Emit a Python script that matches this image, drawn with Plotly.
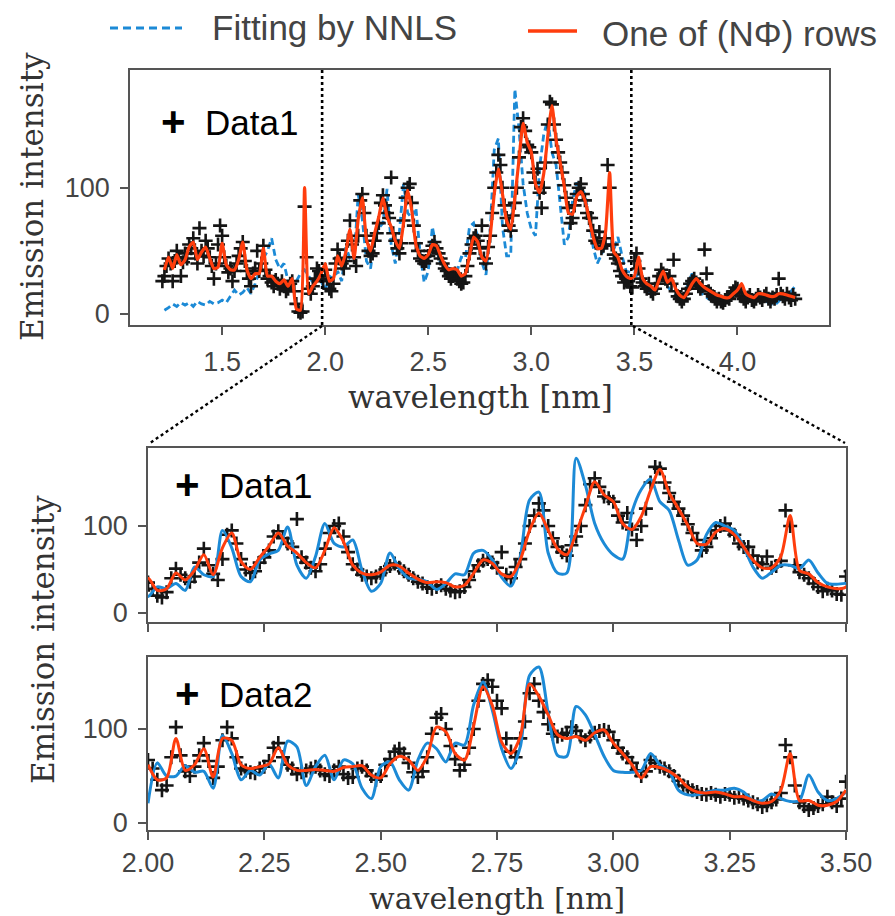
import numpy as np
import plotly.graph_objects as go

# ---------------- data ----------------
STEP_DATA = 0.01
STEP_FIT = 0.02

# Data1: measured emission (black "+"), 1.21 .. 4.28 nm, step 0.01
data1_start = 1.21
data1_values = [
    26, 30, 38, 44, 40, 26, 42, 50, 45, 30,
    41, 48, 44, 55, 52, 60, 48, 40, 68, 50,
    46, 58, 52, 45, 38, 28, 40, 55, 70, 62,
    45, 38, 33, 36, 26, 34, 40, 46, 52, 57,
    42, 34, 28, 22, 32, 36, 50, 34, 40, 54,
    35, 28, 30, 25, 22, 27, 24, 20, 26, 22,
    18, 20, 24, 26, 18, 8, 2, 1, 2, 85,
    45, 20, 16, 22, 28, 36, 34, 30, 26,
    35, 28, 20, 18, 24, 40, 51, 44, 40, 36,
    42, 58, 74, 55, 45, 38, 62, 90, 95, 80,
    62, 50, 46, 48, 58, 64, 72, 88, 94, 86,
    80, 76, 108, 64, 58, 52, 48, 56, 74, 92,
    100, 103, 88, 70, 56, 50, 44, 42, 40, 42,
    46, 50, 54, 57, 52, 48, 44, 40, 36, 34,
    30, 28, 30, 32, 28, 26, 24, 25, 30, 38,
    48, 55, 60, 62, 58, 52, 70, 44, 40, 53,
    62, 80, 100, 112, 126, 118, 100, 86, 76, 70,
    66, 78, 88, 100, 124, 148, 155, 145, 134, 132,
    128, 112, 104, 115, 96, 84, 100, 120, 150, 168,
    166, 150, 138, 128, 120, 112, 102, 92, 84, 72,
    76, 86, 95, 100, 103, 95, 90, 80, 76, 76,
    66, 58, 56, 65, 52, 54, 60, 118, 100, 55,
    47, 44, 40, 34, 30, 25, 28, 26, 22, 21,
    42,
    48, 36, 28, 25, 22, 20, 24, 18, 16, 20,
    24, 30, 35, 32, 28, 26, 30, 24, 43, 18,
    14, 12, 10, 12, 16, 20, 24, 26, 28, 25,
    22, 20, 22, 51, 32, 18, 16, 14, 12, 10,
    12, 10, 9, 11, 13, 12, 15, 18, 21, 20,
    17, 14, 12, 10, 13, 15, 11, 10, 12, 15,
    13, 11, 14, 16, 12, 10, 13, 12, 15, 28,
    16, 14, 12, 16, 13, 11, 15, 12,
]

# Data1 fits, 1.22 .. 4.28 nm, step 0.02
fit1_start = 1.22
data1_row = [  # "One of (N Phi) rows"
    35, 45, 36, 47, 39, 43, 53, 57, 43, 49,
    53, 44, 36, 37, 56, 39, 35, 35, 43, 57,
    35, 28, 32, 32, 52, 30, 30, 26, 24, 27,
    22, 28, 4, 3, 100, 16, 22, 26, 32, 40,
    26, 28, 46, 38, 49, 67, 44, 75, 92, 59,
    50, 64, 77, 92, 77, 69, 58, 52, 72, 98,
    82, 55, 46, 44, 47, 55, 54, 46, 39, 35,
    36, 35, 30, 32, 46, 61, 57,
    45, 42, 61, 95, 115, 95, 74, 67, 92, 122,
    151, 136, 128, 103, 96, 111, 141, 165, 138, 120,
    101, 80, 79, 93, 97, 90, 76, 61, 52, 52,
    65, 112, 49, 45, 35, 30, 28, 30,
    45, 28, 24, 22, 19, 27, 34, 25, 28, 20,
    15, 13, 18, 24, 28, 24, 21, 19, 17, 15,
    14, 13, 13, 16, 19, 24, 16, 14, 13, 16,
    16, 15, 14, 14, 16, 16, 15, 14, 13,
]
data1_nnls = [  # "Fitting by NNLS"
    3, 5, 8, 6, 9, 7, 9, 6, 10, 8,
    7, 10, 8, 9, 11, 9, 14, 19, 15, 17,
    21, 16, 24, 33, 44, 50, 60, 43, 36, 40,
    26, 24, 26, 32, 35, 30, 25, 30, 26, 19,
    30, 28, 34, 26, 53, 44, 42, 95, 75, 42,
    36, 61, 68, 72, 99, 55, 40, 65, 103, 80,
    76, 84, 49, 25, 34, 69, 51, 40, 39, 36,
    27, 34, 45, 44, 69, 72, 61,
    41, 31, 65, 130, 139, 69, 46, 46, 178, 147,
    103, 80, 67, 62, 116, 142, 154, 128, 118, 84,
    55, 61, 90, 104, 100, 95, 76, 53, 40, 47,
    55, 55, 51, 61, 46, 34, 33, 34,
    28, 24, 18, 16, 20, 28, 32, 22, 18, 14,
    11, 14, 24, 32, 26, 18, 14, 12, 10, 8,
    10, 12, 14, 16, 18, 14, 10, 12, 9, 12,
    14, 10, 8, 7, 10, 14, 12, 18, 22,
]

# Data2: measured emission, 2.00 .. 3.50 nm, step 0.01
data2_start = 2.00
data2_values = [
    67, 58, 46, 35, 40, 70, 102, 72, 55, 50,
    60, 72, 85, 66, 48, 60, 88, 102, 90, 70,
    58, 56, 54, 53, 58, 60, 66, 80, 85, 70,
    62, 58, 52, 54, 56, 58, 60, 56, 52, 50,
    56, 60, 52, 48, 49, 58, 60, 56, 50, 46,
    50, 62, 68, 76, 79, 74, 64, 54, 49, 55,
    70, 95, 112, 116, 100, 82, 68, 56, 62, 80,
    100, 130, 148, 152, 145, 130, 122, 90, 76, 70,
    90, 108, 138, 148, 130, 118, 105, 95, 92, 94,
    96, 102, 98, 92, 88, 92, 96, 98, 99, 97,
    88, 80, 74, 70, 64, 56, 50, 55, 67, 64,
    60, 58, 55, 50, 45, 40, 38, 35, 33, 31,
    30, 32, 30, 28, 31, 30, 27, 28, 26, 24,
    22, 20, 17, 19, 22, 25, 32, 83, 70, 40,
    22, 18, 14, 16, 18, 20, 28, 22, 18, 26,
    44,
]
fit2_start = 2.00
data2_row = [
    62, 46, 48, 90, 56, 62, 79, 49, 90, 88,
    62, 58, 60, 63, 80, 62, 56, 56, 57, 56,
    55, 59, 60, 61, 51, 48, 63, 71, 67, 56,
    71, 102, 97, 74, 67, 104, 145, 125, 86, 74,
    92, 148, 135, 115, 94, 90, 92, 88, 96, 99,
    85, 74, 62, 48, 60, 59, 55, 48, 38, 33,
    32, 33, 31, 28, 28, 24, 21, 23, 35, 74,
    24, 24, 19, 19, 23, 35,
]
data2_nnls = [
    21, 64, 50, 50, 61, 54, 55, 37, 93, 74,
    46, 56, 51, 63, 48, 87, 81, 40, 60, 72,
    46, 67, 63, 37, 26, 60, 65, 46, 35, 67,
    85, 79, 65, 85, 83, 126, 150, 120, 79, 58,
    81, 157, 166, 117, 72, 71, 124, 115, 94, 71,
    56, 54, 54, 56, 74, 62, 55, 35, 30, 30,
    33, 35, 35, 37, 33, 24, 24, 31, 26, 23,
    24, 51, 33, 24, 26, 33,
]

top_xticks = [1.5, 2.0, 2.5, 3.0, 3.5, 4.0]
top_xticktext = ["1.5", "2.0", "2.5", "3.0", "3.5", "4.0"]
zoom_xticks = [2.0, 2.25, 2.5, 2.75, 3.0, 3.25, 3.5]
zoom_xticktext = ["2.00", "2.25", "2.50", "2.75", "3.00", "3.25", "3.50"]
y_ticks = [0, 100]
y_ticktext = ["0", "100"]
zoom_lo, zoom_hi = 2.0, 3.5


def grid(start, step, n):
    return np.round(start + step * np.arange(n), 2)


x_d1 = grid(data1_start, STEP_DATA, len(data1_values))
x_f1 = grid(fit1_start, STEP_FIT, len(data1_row))
x_d2 = grid(data2_start, STEP_DATA, len(data2_values))
x_f2 = grid(fit2_start, STEP_FIT, len(data2_row))

# ---------------- styling ----------------
W, H = 895, 916
BLUE = "#1c8ad6"
RED = "#ff3d0d"
BLACK = "#151515"
FRAME = "#555555"
TICKFONT = dict(family="Liberation Sans, Arial, sans-serif", size=27, color="#444444")
SERIF = "DejaVu Serif, serif"
SANS = "Liberation Sans, Arial, sans-serif"


def pxx(x):
    return x / W


def pxy(y):
    return 1 - y / H


marker = dict(symbol="cross-thin", size=10, color=BLACK, line=dict(width=2.6, color=BLACK))

fig = go.Figure()

# top panel
fig.add_trace(go.Scatter(x=x_f1, y=data1_nnls, mode="lines", xaxis="x", yaxis="y",
                         line=dict(color=BLUE, width=2.8, dash="7px,4px"), showlegend=False))
fig.add_trace(go.Scatter(x=x_d1, y=data1_values, mode="markers", xaxis="x", yaxis="y",
                         marker=marker, showlegend=False))
fig.add_trace(go.Scatter(x=x_f1, y=data1_row, mode="lines", xaxis="x", yaxis="y",
                         line=dict(color=RED, width=3.2, shape="spline", smoothing=0.5), showlegend=False))

# middle panel (zoom of Data1)
fig.add_trace(go.Scatter(x=x_d1, y=data1_values, mode="markers", xaxis="x2", yaxis="y2",
                         marker=marker, showlegend=False))
fig.add_trace(go.Scatter(x=x_f1, y=data1_nnls, mode="lines", xaxis="x2", yaxis="y2",
                         line=dict(color=BLUE, width=3, shape="spline", smoothing=0.8), showlegend=False))
fig.add_trace(go.Scatter(x=x_f1, y=data1_row, mode="lines", xaxis="x2", yaxis="y2",
                         line=dict(color=RED, width=3, shape="spline", smoothing=0.8), showlegend=False))

# bottom panel (Data2)
fig.add_trace(go.Scatter(x=x_d2, y=data2_values, mode="markers", xaxis="x3", yaxis="y3",
                         marker=marker, showlegend=False))
fig.add_trace(go.Scatter(x=x_f2, y=data2_nnls, mode="lines", xaxis="x3", yaxis="y3",
                         line=dict(color=BLUE, width=3, shape="spline", smoothing=0.8), showlegend=False))
fig.add_trace(go.Scatter(x=x_f2, y=data2_row, mode="lines", xaxis="x3", yaxis="y3",
                         line=dict(color=RED, width=3, shape="spline", smoothing=0.8), showlegend=False))

axis_common = dict(showline=True, mirror=True, linecolor=FRAME, linewidth=1.8,
                   ticks="outside", ticklen=8, tickwidth=1.5, tickcolor=FRAME,
                   showgrid=False, zeroline=False, tickfont=TICKFONT, automargin=False)

fig.update_layout(
    width=W, height=H, margin=dict(l=0, r=0, t=0, b=0, pad=0, autoexpand=False),
    paper_bgcolor="white", plot_bgcolor="white",
    xaxis=dict(domain=[pxx(130), pxx(829)], range=[1.053, 4.444], anchor="y",
               tickvals=top_xticks, ticktext=top_xticktext, ticklabelstandoff=4, **axis_common),
    yaxis=dict(domain=[pxy(325), pxy(70)], range=[-8.7, 193.2], anchor="x",
               tickvals=y_ticks, ticktext=y_ticktext, ticklabelstandoff=5, **axis_common),
    xaxis2=dict(domain=[pxx(148), pxx(846)], range=[zoom_lo, zoom_hi], anchor="y2",
                tickvals=zoom_xticks, showticklabels=False, **axis_common),
    yaxis2=dict(domain=[pxy(622), pxy(448)], range=[-10.3, 189.7], anchor="x2",
                tickvals=y_ticks, ticktext=y_ticktext, ticklabelstandoff=5, **axis_common),
    xaxis3=dict(domain=[pxx(148), pxx(846)], range=[zoom_lo, zoom_hi], anchor="y3",
                tickvals=zoom_xticks, ticktext=zoom_xticktext, ticklabelstandoff=0, **axis_common),
    yaxis3=dict(domain=[pxy(830), pxy(657)], range=[-7.4, 176.6], anchor="x3",
                tickvals=y_ticks, ticktext=y_ticktext, ticklabelstandoff=5, **axis_common),
)

shapes = []
# zoom markers in top panel
for xv in (zoom_lo - 0.015, zoom_hi - 0.015):
    shapes.append(dict(type="line", xref="x", yref="y domain", x0=xv, x1=xv, y0=0, y1=1,
                       line=dict(color="black", width=2.6, dash="dot")))
# connectors to zoomed panel
shapes.append(dict(type="line", xref="paper", yref="paper", x0=pxx(322), y0=pxy(326),
                   x1=pxx(150), y1=pxy(443), line=dict(color="black", width=2.4, dash="dot")))
shapes.append(dict(type="line", xref="paper", yref="paper", x0=pxx(633), y0=pxy(326),
                   x1=pxx(845), y1=pxy(443), line=dict(color="black", width=2.4, dash="dot")))
# legend handles
shapes.append(dict(type="line", xref="paper", yref="paper", x0=pxx(110), y0=pxy(28),
                   x1=pxx(182), y1=pxy(28), line=dict(color=BLUE, width=3, dash="8px,5px")))
shapes.append(dict(type="line", xref="paper", yref="paper", x0=pxx(528), y0=pxy(31),
                   x1=pxx(577), y1=pxy(31), line=dict(color=RED, width=3.5)))
fig.update_layout(shapes=shapes)

ann = []


def text(x, y, s, size, family, color, xanchor="center", angle=0):
    ann.append(dict(x=pxx(x), y=pxy(y), xref="paper", yref="paper", text=s, showarrow=False,
                    xanchor=xanchor, yanchor="middle", textangle=angle,
                    font=dict(size=size, family=family, color=color)))


text(210, 28, "Fitting by NNLS", 35, SANS, "#444444", xanchor="left")
text(600, 33, "One of (NΦ) rows", 35, SANS, "#444444", xanchor="left")

for (px_plus, py_c, label) in [(173, 121, "Data1"), (187, 484, "Data1"), (187, 693, "Data2")]:
    text(px_plus, py_c, "<b>+</b>", 42, SANS, "black")
    text(px_plus + 30, py_c + 1, label, 35, SANS, "black", xanchor="left")

text(32, 197, "Emission intensity", 31, SERIF, "#333333", angle=-90)
text(43, 640, "Emission intensity", 31, SERIF, "#333333", angle=-90)
text(480, 397, "wavelength [nm]", 31, SERIF, "#333333")
text(497, 898, "wavelength [nm]", 30, SERIF, "#333333")
fig.update_layout(annotations=ann)

fig.write_html("out.html")
